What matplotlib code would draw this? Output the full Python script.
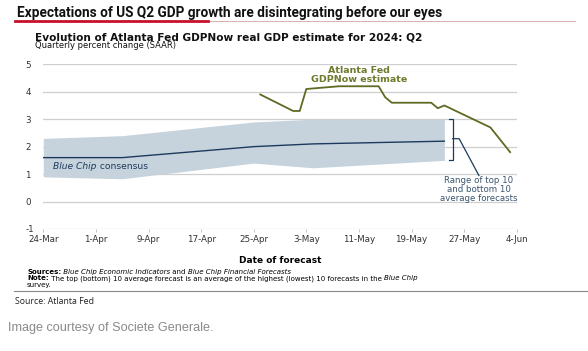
import matplotlib
matplotlib.use("Agg")
import matplotlib.pyplot as plt
import pandas as pd
from matplotlib.lines import Line2D

# Blue Chip consensus and range of top/bottom 10 averages
bc_dates = ["2024-03-24", "2024-04-05", "2024-04-25", "2024-05-04", "2024-05-24"]
bc_mid = [1.6, 1.6, 2.0, 2.1, 2.2]
bc_top = [2.3, 2.4, 2.9, 3.0, 3.0]
bc_bottom = [0.9, 0.83, 1.4, 1.23, 1.5]

# Atlanta Fed GDPNow estimates
gdpnow_dates = ["2024-04-26", "2024-05-01", "2024-05-02", "2024-05-03", "2024-05-08",
                "2024-05-14", "2024-05-15", "2024-05-16", "2024-05-22", "2024-05-23",
                "2024-05-24", "2024-05-31", "2024-06-03"]
gdpnow = [3.9, 3.3, 3.3, 4.1, 4.2, 4.2, 3.8, 3.6, 3.6, 3.4, 3.5, 2.7, 1.8]

tick_dates = pd.date_range("2024-03-24", "2024-06-04", freq="8D")
y_ticks = [-1, 0, 1, 2, 3, 4, 5]

NAVY = "#1d3a5c"
BAND = "#c6d3dd"
OLIVE = "#5f6a22"
OLIVE_TXT = "#6f7a2c"
LABEL = "#3b5570"

bc_x = pd.to_datetime(bc_dates)
gn_x = pd.to_datetime(gdpnow_dates)

fig = plt.figure(figsize=(5.88, 3.51), dpi=100)
ax = fig.add_axes([43.3 / 588, 1 - 229 / 351, (516.7 - 43.3) / 588, (229 - 64.3) / 351])

for y in y_ticks:
    ax.axhline(y, color="#cfcfcf", lw=0.9, zorder=0)

ax.fill_between(bc_x, bc_bottom, bc_top, color=BAND, lw=0, zorder=1)
ax.plot(bc_x, bc_mid, color=NAVY, lw=1.0, zorder=2)
ax.plot(gn_x, gdpnow, color=OLIVE, lw=1.3, zorder=3)

ax.set_xlim(tick_dates[0], tick_dates[-1])
ax.set_ylim(-1, 5)
ax.set_xticks(tick_dates)
ax.set_xticklabels([d.strftime("%-d-%b") for d in tick_dates], fontsize=6.3, color="#333333")
ax.set_yticks(y_ticks)
ax.set_yticklabels([str(v) for v in y_ticks], fontsize=6.3, color="#333333")
ax.tick_params(axis="x", length=2, width=0.6, color="#bbbbbb", pad=2)
ax.tick_params(axis="y", length=0, pad=13)
for lab in ax.get_yticklabels():
    lab.set_horizontalalignment("left")
for s in ax.spines.values():
    s.set_visible(False)

# bracket for the range
bx = pd.Timestamp("2024-05-25 06:00")
bx_in = pd.Timestamp("2024-05-24 18:00")
ax.plot([bx_in, bx, bx, bx_in], [3.0, 3.0, 1.53, 1.53], color=NAVY, lw=0.9,
        solid_joinstyle="miter", zorder=4)
ax.plot([bx, pd.Timestamp("2024-05-26 06:00"), pd.Timestamp("2024-05-29 06:00")],
        [2.29, 2.29, 0.95], color=NAVY, lw=0.9, zorder=4)
ax.text(pd.Timestamp("2024-05-29 06:00"), 0.93,
        "Range of top 10\nand bottom 10\naverage forecasts",
        ha="center", va="top", fontsize=6.2, color=LABEL, linespacing=1.0)

ax.text(pd.Timestamp("2024-05-11"), 4.6, "Atlanta Fed\nGDPNow estimate",
        ha="center", va="center", fontsize=6.8, color=OLIVE_TXT,
        fontweight="bold", linespacing=1.0)

t1 = ax.text(pd.Timestamp("2024-03-25 12:00"), 1.29, "Blue Chip", fontsize=6.6,
             style="italic", color=NAVY, va="center")
ax.annotate(" consensus", xy=(1, 0.5), xycoords=t1, va="center", fontsize=6.6,
            color=NAVY)

ax.set_xlabel("Date of forecast", fontsize=6.5, fontweight="bold", labelpad=9)

# headings
fig.text(17 / 588, 1 - 13 / 351, "Expectations of US Q2 GDP growth are disintegrating before our eyes",
         fontsize=9.8, fontweight="bold", family="Roboto", va="center", color="#111111")
fig.add_artist(Line2D([15 / 588, 575 / 588], [1 - 20.8 / 351] * 2, color="#d9a0a0", lw=0.6))
fig.add_artist(Line2D([15 / 588, 208 / 588], [1 - 20.8 / 351] * 2, color="#c8102e", lw=2.0))
fig.text(35 / 588, 1 - 37 / 351, "Evolution of Atlanta Fed GDPNow real GDP estimate for 2024: Q2",
         fontsize=7.6, fontweight="bold", va="center", color="#111111")
fig.text(35 / 588, 1 - 45.5 / 351, "Quarterly percent change (SAAR)",
         fontsize=6.0, va="center", color="#111111")

# footnotes
fs = 5.0
s1 = fig.text(27 / 588, 1 - 271.7 / 351, "Sources:", fontsize=fs, fontweight="bold", va="center")
a = plt.annotate(" Blue Chip Economic Indicators", xy=(1, 0.5), xycoords=s1, va="center",
                 fontsize=fs, style="italic")
b = plt.annotate(" and ", xy=(1, 0.5), xycoords=a, va="center", fontsize=fs)
plt.annotate("Blue Chip Financial Forecasts", xy=(1, 0.5), xycoords=b, va="center",
             fontsize=fs, style="italic")
n1 = fig.text(27 / 588, 1 - 278.3 / 351, "Note:", fontsize=fs, fontweight="bold", va="center")
n2 = plt.annotate(" The top (bottom) 10 average forecast is an average of the highest (lowest) 10 forecasts in the ",
                  xy=(1, 0.5), xycoords=n1, va="center", fontsize=fs)
plt.annotate("Blue Chip", xy=(1, 0.5), xycoords=n2, va="center", fontsize=fs, style="italic")
fig.text(27 / 588, 1 - 285 / 351, "survey.", fontsize=fs, va="center")

fig.add_artist(Line2D([14 / 588, 1.0], [1 - 291 / 351] * 2, color="#888888", lw=0.8))
fig.text(15 / 588, 1 - 301 / 351, "Source: Atlanta Fed", fontsize=6.3, va="center",
         family="Open Sans", color="#222222")
fig.text(8 / 588, 1 - 328.5 / 351, "Image courtesy of Societe Generale.", fontsize=9.1,
         va="center", family="Liberation Sans", color="#8a8a8a")

fig.savefig("out.png", dpi=100)
